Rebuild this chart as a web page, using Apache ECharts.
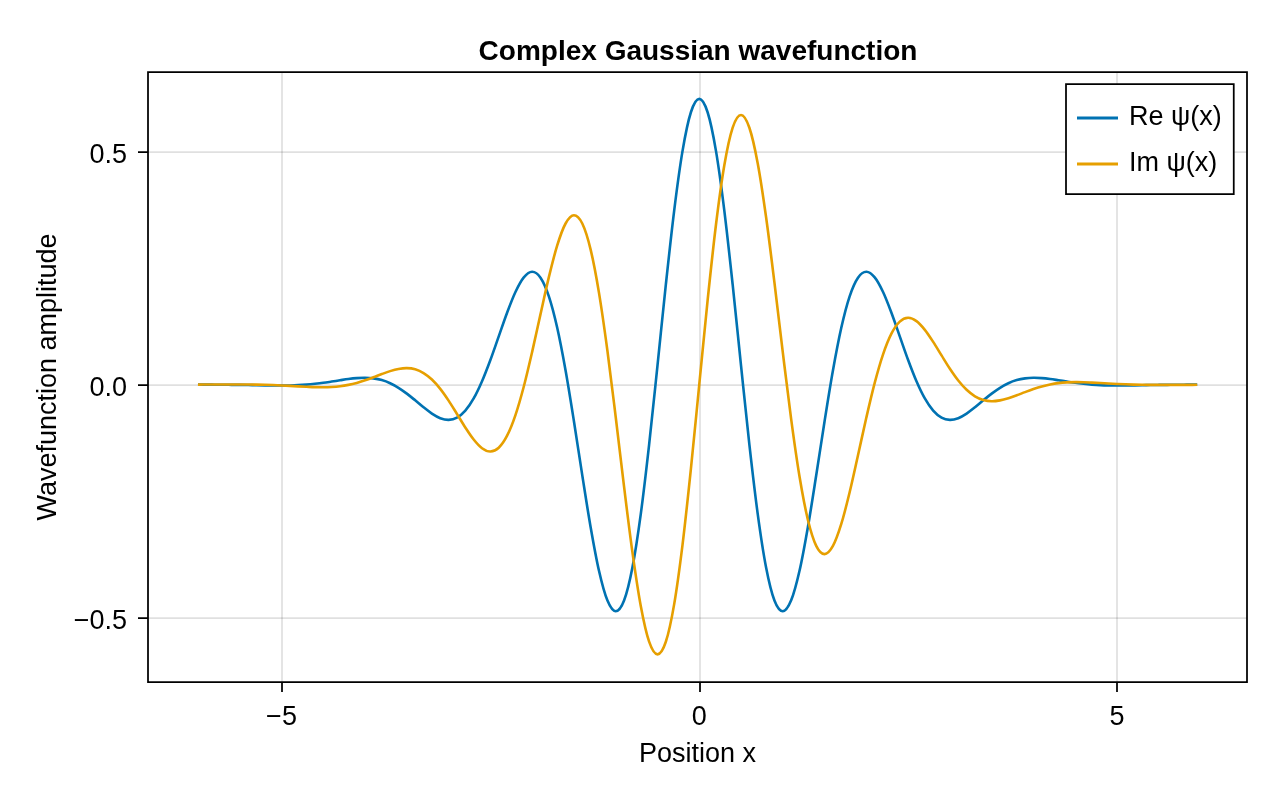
<!DOCTYPE html>
<html>
<head>
<meta charset="utf-8">
<script src="https://cdn.jsdelivr.net/npm/echarts@6/dist/echarts.min.js"></script>
<style>html,body{margin:0;padding:0;background:#fff;}#c{width:1280px;height:800px;}</style>
</head>
<body>
<div id="c"></div>
<script>
const xs = [-6.0,-5.9,-5.8,-5.7,-5.6,-5.5,-5.4,-5.3,-5.2,-5.1,
  -5.0,-4.9,-4.8,-4.7,-4.6,-4.5,-4.4,-4.3,-4.2,-4.1,
  -4.0,-3.9,-3.8,-3.7,-3.6,-3.5,-3.4,-3.3,-3.2,-3.1,
  -3.0,-2.9,-2.8,-2.7,-2.6,-2.5,-2.4,-2.3,-2.2,-2.1,
  -2.0,-1.9,-1.8,-1.7,-1.6,-1.5,-1.4,-1.3,-1.2,-1.1,
  -1.0,-0.9,-0.8,-0.7,-0.6,-0.5,-0.4,-0.3,-0.2,-0.1,
  0.0,
  0.1,0.2,0.3,0.4,0.5,0.6,0.7,0.8,0.9,1.0,
  1.1,1.2,1.3,1.4,1.5,1.6,1.7,1.8,1.9,2.0,
  2.1,2.2,2.3,2.4,2.5,2.6,2.7,2.8,2.9,3.0,
  3.1,3.2,3.3,3.4,3.5,3.6,3.7,3.8,3.9,4.0,
  4.1,4.2,4.3,4.4,4.5,4.6,4.7,4.8,4.9,5.0,
  5.1,5.2,5.3,5.4,5.5,5.6,5.7,5.8,5.9,5.96];

const reValues = [0.0001,0.0001,0.0000,-0.0001,-0.0003,-0.0005,-0.0008,-0.0012,-0.0015,-0.0017,
  -0.0018,-0.0016,-0.0010,0.0002,0.0019,0.0040,0.0067,0.0095,0.0122,0.0141,
  0.0148,0.0135,0.0098,0.0031,-0.0067,-0.0192,-0.0336,-0.0485,-0.0620,-0.0719,
  -0.0756,-0.0709,-0.0558,-0.0296,0.0074,0.0530,0.1037,0.1544,0.1988,0.2302,
  0.2422,0.2295,0.1895,0.1220,0.0304,-0.0784,-0.1945,-0.3058,-0.3994,-0.4628,
  -0.4862,-0.4632,-0.3923,-0.2777,-0.1286,0.0410,0.2145,0.3737,0.5017,0.5846,
  0.6133,
  0.5846,0.5017,0.3737,0.2145,0.0410,-0.1286,-0.2777,-0.3923,-0.4632,-0.4862,
  -0.4628,-0.3994,-0.3058,-0.1945,-0.0784,0.0304,0.1220,0.1895,0.2295,0.2422,
  0.2302,0.1988,0.1544,0.1037,0.0530,0.0074,-0.0296,-0.0558,-0.0709,-0.0756,
  -0.0719,-0.0620,-0.0485,-0.0336,-0.0192,-0.0067,0.0031,0.0098,0.0135,0.0148,
  0.0141,0.0122,0.0095,0.0067,0.0040,0.0019,0.0002,-0.0010,-0.0016,-0.0018,
  -0.0017,-0.0015,-0.0012,-0.0008,-0.0005,-0.0003,-0.0001,0.0000,0.0001,0.0001];

const imValues = [0.0002,0.0003,0.0003,0.0004,0.0005,0.0005,0.0004,0.0002,-0.0002,-0.0008,
  -0.0016,-0.0025,-0.0036,-0.0045,-0.0053,-0.0055,-0.0049,-0.0033,-0.0004,0.0038,
  0.0094,0.0159,0.0228,0.0291,0.0337,0.0355,0.0329,0.0249,0.0110,-0.0090,
  -0.0342,-0.0628,-0.0918,-0.1177,-0.1364,-0.1435,-0.1353,-0.1095,-0.0652,-0.0039,
  0.0705,0.1514,0.2307,0.2988,0.3459,0.3636,0.3458,0.2898,0.1971,0.0739,
  -0.0693,-0.2189,-0.3593,-0.4748,-0.5514,-0.5787,-0.5517,-0.4709,-0.3432,-0.1808,
  0.0,
  0.1808,0.3432,0.4709,0.5517,0.5787,0.5514,0.4748,0.3593,0.2189,0.0693,
  -0.0739,-0.1971,-0.2898,-0.3458,-0.3636,-0.3459,-0.2988,-0.2307,-0.1514,-0.0705,
  0.0039,0.0652,0.1095,0.1353,0.1435,0.1364,0.1177,0.0918,0.0628,0.0342,
  0.0090,-0.0110,-0.0249,-0.0329,-0.0355,-0.0337,-0.0291,-0.0228,-0.0159,-0.0094,
  -0.0038,0.0004,0.0033,0.0049,0.0055,0.0053,0.0045,0.0036,0.0025,0.0016,
  0.0008,0.0002,-0.0002,-0.0004,-0.0005,-0.0005,-0.0004,-0.0003,-0.0003,-0.0002];

const xTicks = [-5, 0, 5];
const yTicks = [-0.5, 0, 0.5];
const seriesNames = ['Re ψ(x)', 'Im ψ(x)'];
const seriesColors = ['#0072B2', '#E69F00'];

const FONT = 'Liberation Sans';
const fmtMinus = s => String(s).replace('-', '\u2212');

// Smooth curve through the data points, positioned by the chart's own axes (api.coord)
function curveRenderer(values, color) {
  return function (params, api) {
    const p = xs.map((x, i) => api.coord([x, values[i]]));
    const n = p.length;
    let d = 'M' + p[0][0] + ' ' + p[0][1];
    for (let i = 0; i < n - 1; i++) {
      const p0 = p[Math.max(i - 1, 0)], p1 = p[i], p2 = p[i + 1], p3 = p[Math.min(i + 2, n - 1)];
      const c1x = p1[0] + (p2[0] - p0[0]) / 6, c1y = p1[1] + (p2[1] - p0[1]) / 6;
      const c2x = p2[0] - (p3[0] - p1[0]) / 6, c2y = p2[1] - (p3[1] - p1[1]) / 6;
      d += ' C' + c1x + ' ' + c1y + ' ' + c2x + ' ' + c2y + ' ' + p2[0] + ' ' + p2[1];
    }
    return {
      type: 'path',
      shape: {pathData: d},
      style: {stroke: color, lineWidth: 2.6, fill: 'none', lineJoin: 'round'}
    };
  };
}

const chart = echarts.init(document.getElementById('c'), null, {renderer: 'canvas'});
chart.setOption({
  animation: false,
  backgroundColor: '#fff',
  title: {
    text: 'Complex Gaussian wavefunction',
    left: 693, top: 33, textAlign: 'center',
    textStyle: {fontFamily: FONT, fontSize: 28, fontWeight: 'bold', color: '#000'}
  },
  grid: {
    left: 148, right: 33, top: 72, bottom: 118,
    show: true, borderColor: '#000', borderWidth: 1.75, backgroundColor: 'transparent'
  },
  legend: {
    orient: 'vertical', left: 1066, top: 84,
    data: seriesNames,
    icon: 'rect',
    borderColor: '#000', borderWidth: 1.75, backgroundColor: '#fff',
    padding: [19, 12, 15, 11],
    itemWidth: 41, itemHeight: 3, itemGap: 16,
    textStyle: {fontFamily: FONT, fontSize: 27, color: '#000', lineHeight: 30, padding: [0, 0, 0, 6]}
  },
  xAxis: {
    type: 'value', min: -6.598, max: 6.556,
    name: 'Position x', nameLocation: 'middle', nameGap: 59,
    nameTextStyle: {fontFamily: FONT, fontSize: 27, color: '#000'},
    axisLine: {show: false, onZero: false},
    axisTick: {show: true, length: 10, lineStyle: {color: '#000', width: 1.75}, customValues: xTicks},
    axisLabel: {fontFamily: FONT, fontSize: 27, color: '#000', margin: 22, customValues: xTicks,
      formatter: v => fmtMinus(v)},
    splitLine: {show: true, lineStyle: {color: 'rgba(0,0,0,0.12)', width: 1.75}}
  },
  yAxis: {
    type: 'value', min: -0.638, max: 0.671,
    name: 'Wavefunction amplitude', nameLocation: 'middle', nameGap: 86,
    nameTextStyle: {fontFamily: FONT, fontSize: 27, color: '#000'},
    axisLine: {show: false, onZero: false},
    axisTick: {show: true, length: 10, lineStyle: {color: '#000', width: 1.75}, customValues: yTicks},
    axisLabel: {fontFamily: FONT, fontSize: 27, color: '#000', margin: 21, customValues: yTicks,
      formatter: v => '{a|' + fmtMinus(Number(v).toFixed(1)) + '}',
      rich: {a: {fontFamily: FONT, fontSize: 27, color: '#000', padding: [7, 0, 0, 0]}}},
    splitLine: {show: true, lineStyle: {color: 'rgba(0,0,0,0.12)', width: 1.75}}
  },
  series: [
    {
      name: seriesNames[0], type: 'custom', coordinateSystem: 'cartesian2d',
      data: [[xs[0], reValues[0]]],
      itemStyle: {color: seriesColors[0]},
      renderItem: curveRenderer(reValues, seriesColors[0])
    },
    {
      name: seriesNames[1], type: 'custom', coordinateSystem: 'cartesian2d',
      data: [[xs[0], imValues[0]]],
      itemStyle: {color: seriesColors[1]},
      renderItem: curveRenderer(imValues, seriesColors[1])
    }
  ]
});
</script>
</body>
</html>
